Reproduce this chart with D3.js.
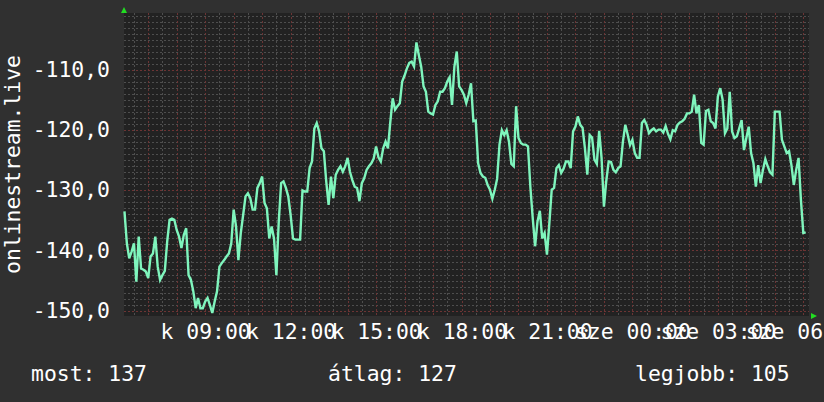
<!DOCTYPE html>
<html>
<head>
<meta charset="utf-8">
<script src="https://cdn.jsdelivr.net/npm/d3@7"></script>
<style>
  html, body { margin: 0; padding: 0; background: #303030; }
  svg { display: block; font-family: "DejaVu Sans Mono", monospace; }
</style>
</head>
<body>
<svg id="chart" width="824" height="402"></svg>
<script>
// 5 minute samples, first one at 06:10
const startTime = new Date(2024, 0, 2, 6, 10);
const stepMinutes = 5;
const values = [
  -133.5, -138.8, -141.3, -140.2, -138.8, -145.2, -137.7, -143.0, -143.2, -143.5,
  -144.6, -141.0, -140.5, -137.7, -142.7, -144.9, -144.1, -143.4, -138.5, -134.9,
  -134.7, -134.9, -136.6, -137.7, -139.6, -137.4, -136.3, -144.1, -144.9, -146.8,
  -149.6, -147.9, -149.6, -149.6, -148.5, -147.9, -149.1, -150.4, -148.5, -146.8,
  -142.7, -142.1, -141.6, -141.0, -140.5, -138.8, -133.2, -136.0, -141.6, -137.1,
  -134.1, -131.0, -130.5, -131.3, -133.2, -133.2, -129.6, -128.8, -127.7, -132.1,
  -133.0, -138.0, -136.0, -138.0, -144.1, -135.2, -128.8, -128.5, -129.6, -131.0,
  -134.1, -138.0, -138.2, -138.2, -138.2, -130.0, -130.2, -130.2, -126.3, -125.2,
  -119.7, -118.8, -120.2, -123.0, -123.5, -128.5, -132.4, -127.7, -131.3, -127.4,
  -126.6, -126.0, -126.9, -126.0, -124.6, -126.9, -128.3, -129.4, -129.6, -131.8,
  -128.8, -128.0, -126.6, -126.0, -125.5, -124.7, -122.7, -124.5, -125.2, -123.0,
  -121.9, -123.0, -118.6, -114.7, -116.6, -116.0, -115.5, -111.9, -110.9, -109.7,
  -108.8, -108.6, -109.4, -105.4, -107.5, -109.4, -112.7, -113.6, -116.9, -117.2,
  -117.4, -115.8, -115.2, -113.6, -113.6, -113.0, -111.9, -111.2, -115.8, -109.4,
  -106.9, -112.7, -113.3, -114.1, -115.5, -114.1, -112.2, -118.5, -118.4, -125.5,
  -127.1, -127.7, -127.9, -129.1, -129.9, -131.4, -129.9, -128.1, -122.4, -120.0,
  -120.8, -120.0, -121.9, -125.6, -126.0, -116.0, -121.3, -122.1, -122.4, -122.4,
  -122.7, -129.4, -134.6, -139.3, -135.2, -133.4, -138.0, -137.1, -140.7, -135.5,
  -129.9, -129.6, -126.3, -125.8, -127.1, -126.4, -125.2, -125.2, -126.3, -120.2,
  -119.4, -117.7, -119.1, -119.6, -123.0, -127.4, -120.8, -121.2, -124.9, -125.6,
  -120.1, -124.6, -132.7, -128.4, -125.2, -125.3, -126.6, -127.0, -126.3, -126.0,
  -121.9, -119.1, -120.7, -122.5, -121.6, -123.8, -124.6, -124.6, -118.8, -118.3,
  -119.1, -120.5, -120.0, -119.7, -120.2, -119.9, -119.9, -120.4, -119.3, -120.6,
  -121.5, -120.0, -120.2, -119.1, -118.7, -118.5, -118.1, -117.2, -117.2, -116.9,
  -114.1, -117.2, -115.8, -122.1, -122.4, -116.8, -116.6, -118.5, -118.8, -119.7,
  -114.4, -113.0, -114.9, -120.5, -119.7, -113.6, -120.2, -121.3, -121.0, -119.7,
  -118.3, -123.3, -121.3, -119.4, -123.8, -125.5, -129.4, -125.8, -128.8, -126.6,
  -124.8, -126.0, -127.0, -127.4, -116.9, -116.9, -116.9, -121.6, -122.7, -123.8,
  -123.5, -125.8, -129.1, -126.6, -124.6, -131.6, -137.1, -137.0
];

const yTicks = [-110, -120, -130, -140, -150];
const xTickTimes = [
  new Date(2024, 0, 2, 9), new Date(2024, 0, 2, 12), new Date(2024, 0, 2, 15),
  new Date(2024, 0, 2, 18), new Date(2024, 0, 2, 21), new Date(2024, 0, 3, 0),
  new Date(2024, 0, 3, 3), new Date(2024, 0, 3, 6)
];
const xTickLabels = ["k 09:00", "k 12:00", "k 15:00", "k 18:00", "k 21:00",
  "sze 00:00", "sze 03:00", "sze 06:00"];
const legendLabels = ["most: 137", "átlag: 127", "legjobb: 105"];
const yTitle = "onlinestream.live";

const LEFT = 124, RIGHT = 809, TOP = 13, BOTTOM = 316;
const FONT = 21.4;

const svg = d3.select("#chart");

const x = d3.scaleTime()
  .domain([new Date(2024, 0, 2, 6, 9), new Date(2024, 0, 3, 6, 12)])
  .range([LEFT, RIGHT]);
const y = d3.scaleLinear()
  .domain([-150.9, -100.5])
  .range([BOTTOM, TOP]);

const fmt = d3.formatLocale({
  decimal: ",", thousands: " ", grouping: [3], currency: ["", ""], minus: "-"
}).format(".1f");

// canvas
svg.append("rect")
  .attr("x", LEFT).attr("y", TOP)
  .attr("width", RIGHT - LEFT).attr("height", BOTTOM - TOP)
  .attr("fill", "#222222");

// grid: minor lines first, red major ones on top
const g = svg.append("g").attr("shape-rendering", "crispEdges");
const halfHours = d3.timeMinute.every(30).range(x.domain()[0], x.domain()[1]);
const units = d3.range(-150, -100, 1);
const MINOR = "#4e4e4e", MAJOR = "#6c3434";

g.selectAll(".vminor").data(halfHours.filter(d => d.getMinutes() !== 0))
  .enter().append("line")
  .attr("x1", d => Math.round(x(d)) + 0.5).attr("x2", d => Math.round(x(d)) + 0.5)
  .attr("y1", TOP).attr("y2", BOTTOM)
  .attr("stroke", MINOR).attr("stroke-dasharray", "2,2");

g.selectAll(".hminor").data(units.filter(d => d % 10 !== 0))
  .enter().append("line")
  .attr("x1", LEFT).attr("x2", RIGHT)
  .attr("y1", d => Math.round(y(d)) + 0.5).attr("y2", d => Math.round(y(d)) + 0.5)
  .attr("stroke", MINOR).attr("stroke-dasharray", "2,2");

g.selectAll(".vmajor").data(halfHours.filter(d => d.getMinutes() === 0))
  .enter().append("line")
  .attr("x1", d => Math.round(x(d)) + 0.5).attr("x2", d => Math.round(x(d)) + 0.5)
  .attr("y1", TOP).attr("y2", BOTTOM)
  .attr("stroke", MAJOR).attr("stroke-dasharray", "2,2");

g.selectAll(".hmajor").data(units.filter(d => d % 10 === 0))
  .enter().append("line")
  .attr("x1", LEFT).attr("x2", RIGHT)
  .attr("y1", d => Math.round(y(d)) + 0.5).attr("y2", d => Math.round(y(d)) + 0.5)
  .attr("stroke", MAJOR).attr("stroke-dasharray", "2,2");

// axes (labels only)
const yAxis = svg.append("g")
  .attr("transform", `translate(${LEFT - 14},0)`)
  .call(d3.axisLeft(y).tickValues(yTicks).tickSize(0).tickPadding(0).tickFormat(fmt));
yAxis.select(".domain").remove();
yAxis.selectAll("text")
  .attr("x", 0).attr("dy", "0.31em")
  .attr("font-size", FONT).attr("font-family", "DejaVu Sans Mono")
  .attr("fill", "#ffffff");

const xAxis = svg.append("g")
  .attr("transform", `translate(0,${BOTTOM})`)
  .call(d3.axisBottom(x).tickValues(xTickTimes).tickSize(0).tickPadding(0)
    .tickFormat((d, i) => xTickLabels[i]));
xAxis.select(".domain").remove();
xAxis.selectAll("text")
  .attr("y", 23).attr("dy", 0)
  .attr("font-size", FONT).attr("font-family", "DejaVu Sans Mono")
  .attr("fill", "#ffffff");

// the data line
const line = d3.line()
  .x((d, i) => x(d3.timeMinute.offset(startTime, i * stepMinutes)))
  .y(d => y(d));

svg.append("path")
  .datum(values)
  .attr("d", line)
  .attr("fill", "none")
  .attr("stroke", "#7ff5bd")
  .attr("stroke-width", 2.4)
  .attr("stroke-linejoin", "miter");

// little green arrows at the axis ends
svg.append("path")
  .attr("d", `M${LEFT - 3},${TOP} L${LEFT + 3},${TOP} L${LEFT},${TOP - 6} Z`)
  .attr("fill", "#22dd22");
svg.append("path")
  .attr("d", `M${RIGHT + 2},${BOTTOM - 3} L${RIGHT + 2},${BOTTOM + 3} L${RIGHT + 8},${BOTTOM} Z`)
  .attr("fill", "#22dd22");

// vertical title
svg.append("text")
  .attr("transform", `translate(19.5,${(TOP + BOTTOM) / 2}) rotate(-90)`)
  .attr("text-anchor", "middle")
  .attr("font-size", FONT)
  .attr("fill", "#ffffff")
  .text(yTitle);

// legend line
const legendX = [31, 328, 635];
svg.selectAll(".legend").data(legendLabels)
  .enter().append("text")
  .attr("x", (d, i) => legendX[i])
  .attr("y", 381)
  .attr("font-size", FONT)
  .attr("fill", "#ffffff")
  .text(d => d);
</script>
</body>
</html>
